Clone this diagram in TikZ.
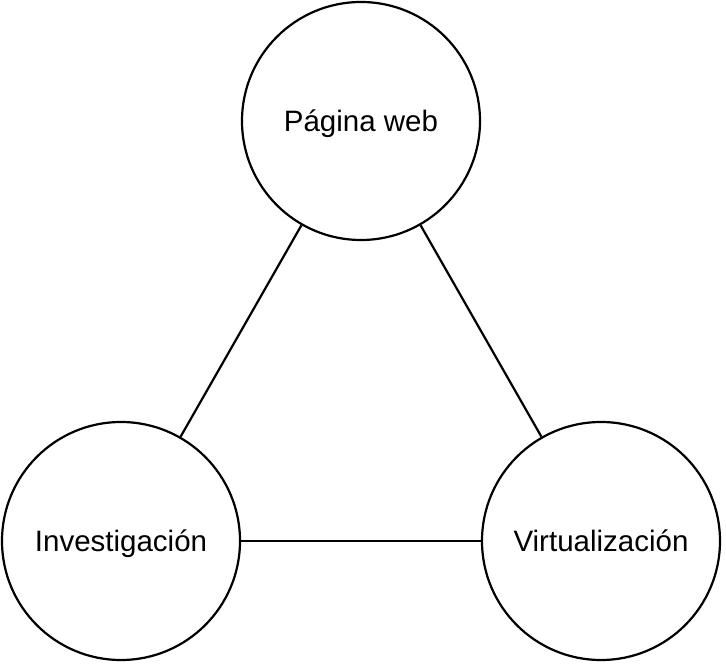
\documentclass[tikz,border=0pt]{standalone}
\usepackage{fontspec}
\setmainfont{Liberation Sans}
\begin{document}
\begin{tikzpicture}[x=1pt,y=-1pt,
  topic/.style={circle,draw=black,line width=2.2pt,minimum size=238pt,inner sep=0pt,text height=21.5pt,text depth=0pt,font=\fontsize{29.5}{34}\selectfont},
  link/.style={draw=black,line width=2.2pt}]
\useasboundingbox (0,0) rectangle (726,666);
\node[topic] (web) at (361,121) {Página web};
\node[topic] (inv) at (121,541) {Investigación};
\node[topic] (vir) at (601,541) {Virtualización};
\draw[link] (web) -- (inv);
\draw[link] (web) -- (vir);
\draw[link] (inv) -- (vir);
\end{tikzpicture}
\end{document}
